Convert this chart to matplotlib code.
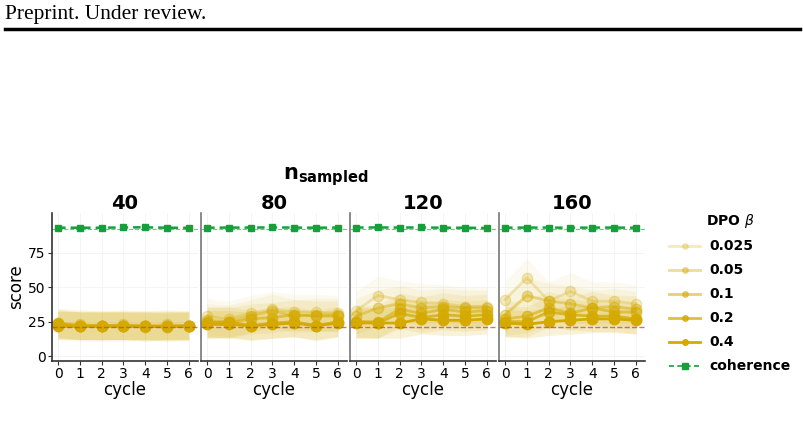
import numpy as np
from matplotlib import pyplot as plt
from matplotlib.lines import Line2D

# data
cycles = [0, 1, 2, 3, 4, 5, 6]
n_sampled = ['40', '80', '120', '160']
betas = ['0.025', '0.05', '0.1', '0.2', '0.4']

score_40 = [
    [24, 23, 22, 23, 22, 23, 22],
    [23, 22, 22, 22, 22, 22, 22],
    [24, 22, 22, 22, 21, 22, 22],
    [23, 22, 22, 22, 22, 21, 22],
    [22, 22, 22, 22, 22, 22, 22],
]
score_80 = [
    [29, 27, 31, 34, 32, 32, 31],
    [26, 25, 29, 33, 29, 30, 30],
    [25, 24, 27, 28, 30, 29, 29],
    [24, 25, 22, 24, 25, 22, 25],
    [23, 23, 22, 23, 24, 22, 24],
]
score_120 = [
    [33, 44, 41, 39, 38, 36, 36],
    [29, 35, 38, 35, 36, 35, 35],
    [25, 25, 34, 31, 34, 32, 33],
    [25, 24, 31, 28, 30, 29, 30],
    [24, 24, 24, 27, 26, 26, 27],
]
score_160 = [
    [41, 57, 40, 47, 40, 40, 38],
    [30, 44, 40, 38, 35, 36, 34],
    [27, 29, 35, 31, 35, 32, 32],
    [25, 25, 32, 30, 29, 29, 27],
    [24, 23, 25, 26, 27, 27, 26],
]
# half-width of the shaded band per beta
spread_40 = [11, 11, 10, 10, 10]
spread_80 = [13, 12, 11, 11, 10]
spread_120 = [14, 13, 12, 11, 11]
spread_160 = [14, 13, 12, 11, 10]

coherence_40 = [93.3, 93.3, 93.3, 93.5, 93.6, 93.3, 93.2]
coherence_80 = [93.3, 93.4, 93.4, 93.5, 93.4, 93.3, 93.4]
coherence_120 = [93.4, 93.5, 93.4, 93.5, 93.3, 93.3, 93.1]
coherence_160 = [93.3, 93.4, 93.4, 93.3, 93.4, 93.4, 93.3]

coherence_ref = 92.7
baseline_ref = 21.0

scores = [score_40, score_80, score_120, score_160]
spreads = [spread_40, spread_80, spread_120, spread_160]
coherences = [coherence_40, coherence_80, coherence_120, coherence_160]

gold = '#D4AA00'
green = '#15A03C'
line_alpha = [0.25, 0.4, 0.55, 0.75, 1.0]
band_alpha = [0.06, 0.08, 0.10, 0.12, 0.15]

fig = plt.figure(figsize=(8.04, 4.24), dpi=100)

# page header
fig.text(5 / 804, 1 - 14 / 424, 'Preprint. Under review.', family='Liberation Serif',
         fontsize=15.5, va='center', ha='left')
fig.add_artist(Line2D([5 / 804, 800 / 804], [1 - 29 / 424, 1 - 29 / 424],
                      color='black', linewidth=2.5))

lefts = [52, 201, 350, 499]
width = 146
bottom, top = 361, 213

for i, n in enumerate(n_sampled):
    ax = fig.add_axes([lefts[i] / 804, 1 - bottom / 424, width / 804, (bottom - top) / 424])
    ax.set_xlim(-0.28, 6.42)
    ax.set_ylim(-3.6, 104)
    ax.grid(True, color='#F2F2F2', linewidth=0.6)
    ax.set_axisbelow(True)
    for k in range(len(betas)):
        y = np.array(scores[i][k])
        s = spreads[i][k]
        ax.fill_between(cycles, y - s, y + s, color=gold, alpha=band_alpha[k], linewidth=0)
        ax.plot(cycles, y, color=gold, alpha=line_alpha[k], linewidth=2,
                marker='o', markersize=7.5)
    ax.axhline(baseline_ref, color='#B5555A', linestyle='--', linewidth=1, alpha=0.8)
    ax.axhline(coherence_ref, color=green, linestyle='--', linewidth=0.8, alpha=0.6)
    ax.plot(cycles, coherences[i], color=green, linestyle='--', linewidth=1.8,
            marker='s', markersize=5, dashes=(3, 2))
    ax.set_title(n, fontsize=14, fontweight='bold', pad=3)
    ax.set_xticks(cycles)
    ax.set_yticks([0, 25, 50, 75])
    ax.set_xlabel('cycle', fontsize=12, labelpad=0)
    ax.tick_params(labelsize=10, length=3, color='#333333', pad=1.5)
    for side in ['top', 'right']:
        ax.spines[side].set_visible(False)
    for side in ['left', 'bottom']:
        ax.spines[side].set_color('#333333')
        ax.spines[side].set_linewidth(1.2)
    if i == 0:
        ax.set_ylabel('score', fontsize=12, labelpad=2)
    else:
        ax.tick_params(axis='y', left=False, labelleft=False)
        ax.spines['left'].set_color('#777777')

fig.text(326 / 804, 1 - 177 / 424, r'$\mathbf{n_{sampled}}$', fontsize=15,
         ha='center', va='center')

# legend
handles = []
for k, b in enumerate(betas):
    handles.append(Line2D([], [], color=gold, alpha=line_alpha[k], linewidth=2,
                          marker='o', markersize=4, label=b))
handles.append(Line2D([], [], color=green, linestyle='--', linewidth=1.2,
                      marker='s', markersize=4, dashes=(3, 2), label='coherence'))
leg = fig.legend(handles=handles, loc='upper left', bbox_to_anchor=(657 / 804, 1 - 199 / 424),
                 frameon=False, title=r'DPO $\beta$', prop={'weight': 'bold', 'size': 10},
                 handlelength=2.2, labelspacing=0.72, handletextpad=0.7)
leg.get_title().set_fontweight('bold')
leg.get_title().set_fontsize(10)

fig.savefig('out.png', dpi=100)
